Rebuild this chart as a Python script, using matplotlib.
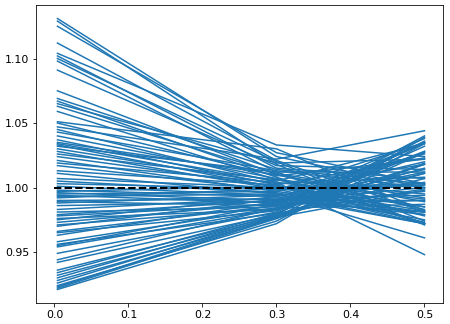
import matplotlib
matplotlib.use("Agg")
import matplotlib.pyplot as plt

x_points = [0.004, 0.3, 0.5]

start_vals = [1.131, 1.129, 1.125, 1.112, 1.104, 1.102, 1.100, 1.098, 1.091, 1.075,
              1.069, 1.067, 1.065, 1.063, 1.059, 1.051, 1.050, 1.045, 1.043, 1.040,
              1.037, 1.035, 1.034, 1.033, 1.032, 1.030, 1.028, 1.026, 1.024, 1.021,
              1.019, 1.017, 1.013, 1.011, 1.007, 1.005, 1.003, 1.001,
              0.998, 0.997, 0.996, 0.995, 0.994, 0.993, 0.992, 0.990, 0.989, 0.988,
              0.986, 0.983, 0.981, 0.979, 0.978, 0.976, 0.975, 0.973, 0.971, 0.970,
              0.966, 0.965, 0.963, 0.958, 0.956, 0.955, 0.954, 0.949, 0.944, 0.942,
              0.936, 0.934, 0.932, 0.930, 0.928, 0.926, 0.924, 0.923, 0.922, 0.921,
              1.047]

mid_vals = [1.024, 1.018, 1.027, 1.021, 1.033, 1.015, 1.020, 1.012, 1.017, 1.010,
            1.014, 1.008, 1.019, 1.011, 1.006, 1.030, 1.009, 1.004, 1.013, 1.007,
            1.002, 1.010, 1.005, 1.000, 1.012, 1.003, 0.999, 1.006, 1.001, 0.997,
            1.004, 0.998, 1.002, 0.995, 1.000, 0.996, 0.999, 0.994,
            0.993, 1.001, 0.990, 0.997, 0.988, 0.995, 0.999, 0.991, 0.986, 0.994,
            0.989, 0.992, 0.985, 0.990, 0.987, 0.983, 0.993, 0.988, 0.984, 0.991,
            0.986, 0.982, 0.989, 0.984, 0.980, 0.987, 0.983, 0.981, 0.984, 0.979,
            0.978, 0.980, 0.977, 0.979, 0.976, 0.978, 0.974, 0.977, 0.976, 0.972,
            1.022]

end_vals = [1.000, 0.971, 1.003, 0.981, 1.024, 1.007, 0.974, 0.972, 1.014, 0.989,
            1.003, 0.972, 1.022, 0.992, 0.985, 0.982, 1.022, 0.948, 1.000, 0.978,
            1.023, 0.983, 1.034, 0.979, 1.012, 1.008, 0.972, 0.995, 0.985, 1.026,
            0.991, 1.035, 0.973, 0.961, 1.003, 0.975, 1.018, 1.002,
            1.020, 0.982, 1.014, 0.981, 1.038, 0.972, 1.002, 1.004, 1.034, 0.981,
            1.000, 0.979, 1.028, 0.990, 1.035, 1.015, 0.972, 1.012, 1.027, 0.994,
            0.997, 1.035, 0.981, 1.011, 1.028, 0.990, 1.018, 1.032, 0.987, 1.040,
            1.018, 0.999, 1.036, 1.011, 1.027, 1.007, 1.034, 0.998, 1.019, 1.039,
            1.044]

ref_x = [0.0, 0.5]
ref_y = [1.0, 1.0]

fig = plt.figure(figsize=(6.25, 4.5), dpi=72)
ax = fig.add_axes([0.08, 0.0648, 0.9044, 0.9198])

for s, m, e in zip(start_vals, mid_vals, end_vals):
    ax.plot(x_points, [s, m, e], color="#1f77b4", linewidth=1.5)

ax.plot(ref_x, ref_y, color="black", linestyle="--", linewidth=2, zorder=5)

ax.set_xticks([0.0, 0.1, 0.2, 0.3, 0.4, 0.5])
ax.set_yticks([0.95, 1.00, 1.05, 1.10])
ax.tick_params(labelsize=11)

fig.savefig("out.png", dpi=72)
